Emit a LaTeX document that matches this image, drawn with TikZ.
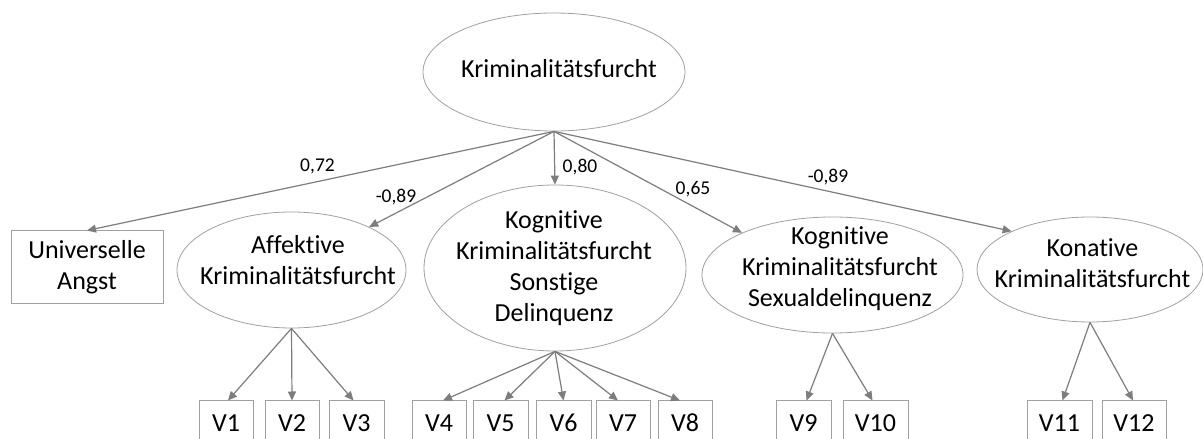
\documentclass[tikz,border=0pt]{standalone}
\usepackage{fontspec}
\setmainfont{Carlito}[Ligatures=NoCommon]
\usetikzlibrary{shapes.geometric,arrows.meta,calc}
\definecolor{arrowc}{RGB}{125,125,125}
\definecolor{linec}{RGB}{160,160,160}
\begin{document}
\begin{tikzpicture}[x=1pt,y=1pt,
  lat/.style={ellipse, draw=linec, line width=0.8pt, inner sep=0pt},
  obs/.style={rectangle, draw=linec, line width=1pt, inner sep=0pt,
    font=\fontsize{26}{31}\selectfont, align=center},
  txt/.style={font=\fontsize{26}{31}\selectfont, align=center, inner sep=0pt},
  arr/.style={draw=arrowc, line width=1.2pt, -{Triangle[length=9pt,width=8pt]}},
  coef/.style={font=\fontsize{19.5}{23}\selectfont, inner sep=0pt}]
\clip (0,0) rectangle (1203,439);
\fill[white] (0,0) rectangle (1203,439);
% latent variables
\node[lat, minimum width=262, minimum height=118] (kf) at (554,367) {};
\node[txt, anchor=base] (kft) at (559,361) {Kriminalitätsfurcht};
\node[lat, minimum width=229, minimum height=116] (aff) at (291.5,169) {};
\node[txt] (afft) at (298,179) {Affektive\\Kriminalitätsfurcht};
\node[lat, minimum width=262, minimum height=166] (ks) at (555,171) {};
\node[txt] (kst) at (554,170.5) {Kognitive\\Kriminalitätsfurcht\\Sonstige\\Delinquenz};
\node[lat, minimum width=261, minimum height=116] (ksx) at (832.5,164) {};
\node[txt] (ksxt) at (840,170) {Kognitive\\Kriminalitätsfurcht\\Sexualdelinquenz};
\node[lat, minimum width=226, minimum height=105] (kon) at (1090,169.5) {};
\node[txt] (kont) at (1092.5,175.5) {Konative\\Kriminalitätsfurcht};
% observed
\node[obs, minimum width=152, minimum height=73] (ua) at (87,171.5) {Universelle\\Angst};
\foreach \n/\x/\w in {1/226/54, 2/292/54, 3/356.5/55, 4/439/54, 5/500.5/55, 6/563.5/55,
  7/623/54, 8/685/54, 9/803.5/55, 10/875.5/65, 11/1059.5/65, 12/1134/64}{
  \node[obs, minimum width=\w, minimum height=44] (v\n) at (\x,16) {V\n};
}
% arrows from top
\draw[arr] (kf.south) -- (ua.north);
\draw[arr] (kf.south) -- (aff.29);
\draw[arr] (kf.south) -- (ks.north);
\draw[arr] (kf.south) -- (ksx.155);
\draw[arr] (kf.south) -- (kon.154);
% coefficients
\node[coef] (c1) at (317.5,273) {0,72};
\node[coef] (c2) at (396,241.5) {-0,89};
\node[coef] (c3) at (580,272) {0,80};
\node[coef] (c4) at (693,250) {0,65};
\node[coef] (c5) at (828,261.5) {-0,89};
% indicators
\draw[arr] (aff.south) -- ([xshift=2pt]v1.north);
\draw[arr] (aff.south) -- (v2.north);
\draw[arr] (aff.south) -- ([xshift=-3pt]v3.north);
\draw[arr] (ks.south) -- ([xshift=4pt]v4.north);
\draw[arr] (ks.south) -- ([xshift=4pt]v5.north);
\draw[arr] (ks.south) -- (v6.north);
\draw[arr] (ks.south) -- ([xshift=-5pt]v7.north);
\draw[arr] (ks.south) -- ([xshift=-5pt]v8.north);
\draw[arr] (ksx.south) -- ([xshift=3pt]v9.north);
\draw[arr] (ksx.south) -- ([xshift=-3pt]v10.north);
\draw[arr] (kon.south) -- ([xshift=3pt]v11.north);
\draw[arr] (kon.south) -- ([xshift=-1pt]v12.north);
\end{tikzpicture}
\end{document}
